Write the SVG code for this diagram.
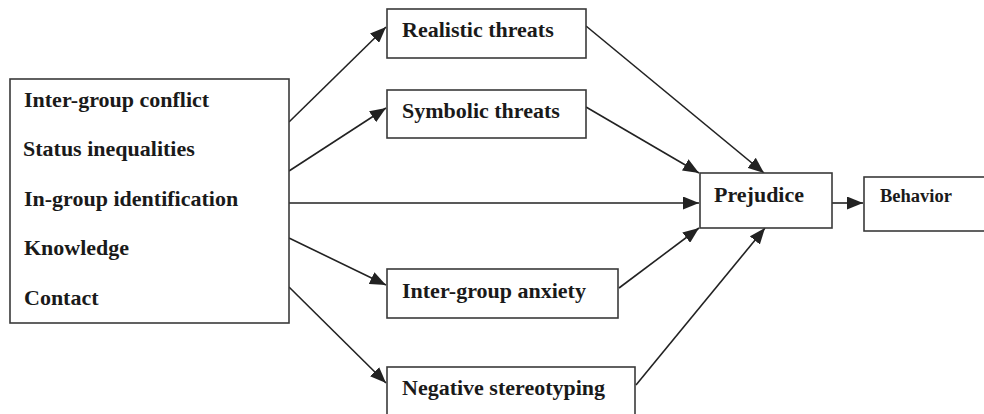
<svg xmlns="http://www.w3.org/2000/svg" width="984" height="414" viewBox="0 0 984 414">
<style>
.box{fill:#fff;stroke:#3a3a3a;stroke-width:1.6}
.t{font-family:"Liberation Serif","Times New Roman",serif;font-weight:bold;font-size:22px;fill:#1a1a1a}
.s{font-family:"Liberation Serif","Times New Roman",serif;font-weight:bold;font-size:18.5px;fill:#1a1a1a}
.e{fill:none;stroke:#222;stroke-width:1.6}
</style>
<defs>
<marker id="ah" markerUnits="userSpaceOnUse" markerWidth="17" markerHeight="13" refX="16" refY="6.5" orient="auto">
<path d="M0,0 L16,6.5 L0,13 Z" fill="#222"/>
</marker>
</defs>
<rect width="984" height="414" fill="#fff"/>
<g id="connectors">
<line class="e" x1="289" y1="122" x2="386" y2="27" marker-end="url(#ah)"/>
<line class="e" x1="289" y1="171" x2="386" y2="108" marker-end="url(#ah)"/>
<line class="e" x1="289" y1="203" x2="699" y2="203" marker-end="url(#ah)"/>
<line class="e" x1="289" y1="238" x2="386" y2="285" marker-end="url(#ah)"/>
<line class="e" x1="289" y1="287" x2="386" y2="383" marker-end="url(#ah)"/>
<line class="e" x1="586" y1="26" x2="764" y2="173" marker-end="url(#ah)"/>
<line class="e" x1="586" y1="107" x2="699" y2="173" marker-end="url(#ah)"/>
<line class="e" x1="619" y1="288" x2="699" y2="228" marker-end="url(#ah)"/>
<line class="e" x1="636" y1="385" x2="765" y2="228" marker-end="url(#ah)"/>
<line class="e" x1="832" y1="203" x2="863" y2="203" marker-end="url(#ah)"/>
</g>
<g id="factors">
<rect class="box" x="10" y="79" width="279" height="244"/>
<text class="t" x="24" y="107">Inter-group conflict</text>
<text class="t" x="23" y="156">Status inequalities</text>
<text class="t" x="24" y="206">In-group identification</text>
<text class="t" x="24" y="255">Knowledge</text>
<text class="t" x="24" y="305">Contact</text>
</g>
<g id="realistic">
<rect class="box" x="387" y="9" width="199" height="49"/>
<text class="t" x="402" y="37">Realistic threats</text>
</g>
<g id="symbolic">
<rect class="box" x="387" y="90" width="199" height="48"/>
<text class="t" x="402" y="118">Symbolic threats</text>
</g>
<g id="anxiety">
<rect class="box" x="387" y="269" width="231" height="49"/>
<text class="t" x="402" y="298">Inter-group anxiety</text>
</g>
<g id="stereotyping">
<rect class="box" x="387" y="367" width="248" height="50"/>
<text class="t" x="402" y="395">Negative stereotyping</text>
</g>
<g id="prejudice">
<rect class="box" x="700" y="173" width="132" height="55"/>
<text class="t" x="714" y="202">Prejudice</text>
</g>
<g id="behavior">
<rect class="box" x="864" y="177" width="124" height="54"/>
<text class="s" x="880" y="202">Behavior</text>
</g>
</svg>
